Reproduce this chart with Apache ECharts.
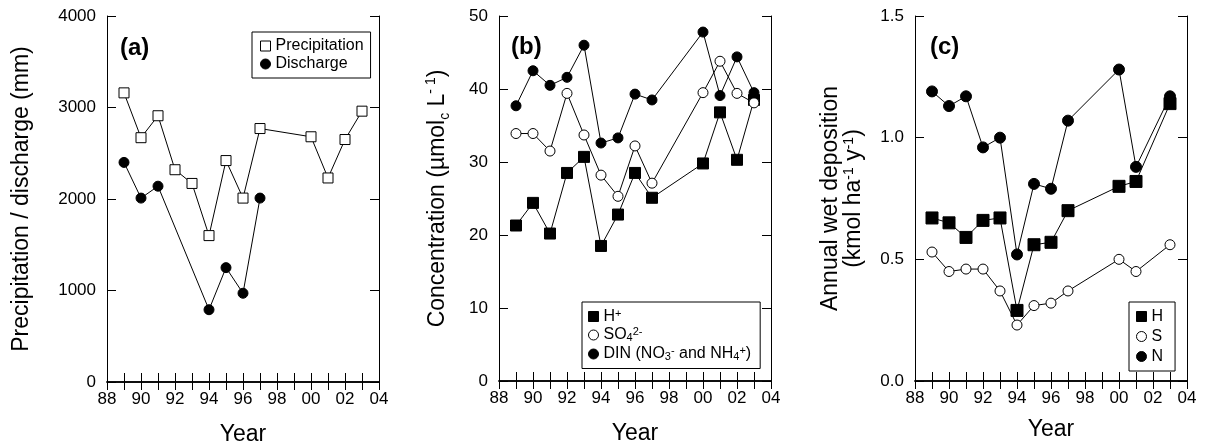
<!DOCTYPE html>
<html>
<head>
<meta charset="utf-8">
<script src="https://cdn.jsdelivr.net/npm/echarts@6/dist/echarts.min.js"></script>
<style>
html,body{margin:0;padding:0;background:#fff;}
#chart{width:1211px;height:447px;}
</style>
</head>
<body>
<div id="chart"></div>
<script>
// ---------- Data ----------
// Panel (a)
const precipYears = [1989,1990,1991,1992,1993,1994,1995,1996,1997,2000,2001,2002,2003];
const precipitation = [3160,2670,2910,2320,2170,1600,2420,2010,2770,2680,2230,2650,2960];
const dischargeYears = [1989,1990,1991,1994,1995,1996,1997];
const discharge = [2400,2010,2140,790,1250,970,2010];

// Panel (b)
const concYears = [1989,1990,1991,1992,1993,1994,1995,1996,1997,2000,2001,2002,2003];
const concH = [21.3,24.4,20.2,28.5,30.7,18.5,22.8,28.5,25.1,29.8,36.8,30.3,38.5];
const concSO4 = [33.9,33.9,31.5,39.4,33.7,28.2,25.3,32.2,27.1,39.5,43.8,39.4,38.1];
const concDIN = [37.7,42.5,40.5,41.6,46.0,32.6,33.3,39.3,38.5,47.8,39.1,44.4,39.5];

// Panel (c)
const depYears = [1989,1990,1991,1992,1993,1994,1995,1996,1997,2000,2001,2003];
const depH = [0.67,0.65,0.59,0.66,0.67,0.29,0.56,0.57,0.70,0.80,0.82,1.14];
const depS = [0.53,0.45,0.46,0.46,0.37,0.23,0.31,0.32,0.37,0.50,0.45,0.56];
const depN = [1.19,1.13,1.17,0.96,1.00,0.52,0.81,0.79,1.07,1.28,0.88,1.17];

// Axis ranges / ticks
const yearMin = 1988, yearMax = 2004;
const yA = {min:0, max:4000, interval:1000};
const yB = {min:0, max:50, interval:10};
const yC = {min:0, max:1.5, interval:0.5};

// ---------- Chart ----------
const FONT = '"Liberation Sans", Arial, Helvetica, sans-serif';
const pairs = (xs, ys) => xs.map((x, i) => [x, ys[i]]);

const grids = [
  {left:107, top:16, width:272, height:366},
  {left:499, top:16, width:272, height:365},
  {left:915, top:16, width:272, height:365}
].map(g => Object.assign({outerBoundsMode:'none', containLabel:false}, g));

function bottomX(gi, gap) {
  return {
    type:'value', gridIndex:gi, position:'bottom',
    min:yearMin, max:yearMax, interval:1,
    name:'Year', nameLocation:'middle', nameGap:gap,
    nameTextStyle:{fontSize:23, color:'#000', fontFamily:FONT},
    axisLine:{show:true, lineStyle:{color:'#000', width:1.5}},
    axisTick:{show:true, inside:true, length:9, lineStyle:{color:'#000', width:1}},
    axisLabel:{show:true, margin:9, fontSize:17, color:'#000', fontFamily:FONT,
      formatter: v => (v % 2 === 0) ? String(v % 100).padStart(2, '0') : ''},
    splitLine:{show:false}
  };
}
function topX(gi) {
  return {
    type:'value', gridIndex:gi, position:'top',
    min:yearMin, max:yearMax, interval:1,
    axisLine:{show:true, lineStyle:{color:'#000', width:1.5}},
    axisTick:{show:true, inside:true, length:8, lineStyle:{color:'#000', width:1}},
    axisLabel:{show:false}, splitLine:{show:false}
  };
}
function leftY(gi, r, name, gap, fmt, nameStyle) {
  return {
    type:'value', gridIndex:gi, position:'left',
    min:r.min, max:r.max, interval:r.interval,
    name:name, nameLocation:'middle', nameGap:gap, nameRotate:90,
    nameTextStyle:Object.assign({fontSize:23, color:'#000', fontFamily:FONT}, nameStyle || {}),
    axisLine:{show:true, lineStyle:{color:'#000', width:1}},
    axisTick:{show:true, inside:true, length:9, lineStyle:{color:'#000', width:1}},
    axisLabel:{show:true, margin:11, fontSize:17, color:'#000', fontFamily:FONT, formatter:fmt},
    splitLine:{show:false}
  };
}
function rightY(gi, r) {
  return {
    type:'value', gridIndex:gi, position:'right',
    min:r.min, max:r.max, interval:r.interval,
    axisLine:{show:true, lineStyle:{color:'#000', width:1}},
    axisTick:{show:true, inside:true, length:9, lineStyle:{color:'#000', width:1}},
    axisLabel:{show:false}, splitLine:{show:false}
  };
}

const openStyle = {color:'#fff', borderColor:'#000', borderWidth:1};
const fillStyle = {color:'#000', borderColor:'#000', borderWidth:1};

function lineSeries(name, gi, data, symbol, size, open) {
  return {
    name:name, type:'line', xAxisIndex:gi, yAxisIndex:gi,
    data:data, symbol:symbol, symbolSize:size, showSymbol:true,
    lineStyle:{color:'#000', width:1},
    itemStyle: open ? openStyle : fillStyle,
    animation:false, silent:true
  };
}

const richTxt = {
  b:{fontSize:16, lineHeight:17, color:'#000', fontFamily:FONT},
  sup:{fontSize:11, lineHeight:11, verticalAlign:'top', color:'#000', fontFamily:FONT},
  sub:{fontSize:11, lineHeight:11, verticalAlign:'bottom', color:'#000', fontFamily:FONT}
};
const legendNamesB = {
  'H+':'{b|H}{sup|+}',
  'SO4':'{b|SO}{sub|4}{sup|2-}',
  'DIN':'{b|DIN (NO}{sub|3}{sup|-}{b| and NH}{sub|4}{sup|+}{b|)}'
};

const axisNameRich = {
  t:{fontSize:23, color:'#000', fontFamily:FONT, lineHeight:28},
  sub:{fontSize:14, color:'#000', fontFamily:FONT, lineHeight:14, verticalAlign:'bottom'},
  sup:{fontSize:14, color:'#000', fontFamily:FONT, lineHeight:14, verticalAlign:'top'}
};

const option = {
  backgroundColor:'#fff',
  animation:false,
  textStyle:{fontFamily:FONT},
  title:[
    {text:'(a)', left:120, top:36, padding:0, textStyle:{fontSize:24, fontWeight:'bold', color:'#000', fontFamily:FONT}},
    {text:'(b)', left:511, top:35, padding:0, textStyle:{fontSize:24, fontWeight:'bold', color:'#000', fontFamily:FONT}},
    {text:'(c)', left:930, top:35, padding:0, textStyle:{fontSize:24, fontWeight:'bold', color:'#000', fontFamily:FONT}}
  ],
  grid:grids,
  xAxis:[bottomX(0, 41), bottomX(1, 41), bottomX(2, 37), topX(0), topX(1), topX(2)],
  yAxis:[
    leftY(0, yA, 'Precipitation / discharge (mm)', 74, v => String(v)),
    leftY(1, yB, '{t|Concentration (µmol}{sub|c}{t| L}{sup|- 1}{t|)}', 47, v => String(v), {rich:axisNameRich}),
    leftY(2, yC, 'Annual wet deposition\n(kmol ha{sup|-1} y{sup|-1})', 50, v => v.toFixed(1),
      {lineHeight:23, rich:{sup:{fontSize:14, lineHeight:14, verticalAlign:'top', color:'#000', fontFamily:FONT}}}),
    rightY(0, yA), rightY(1, yB), rightY(2, yC)
  ],
  legend:[
    {
      left:252, top:32, orient:'vertical', padding:[6,7,6,8],
      itemWidth:10, itemHeight:10, itemGap:2,
      borderColor:'#000', borderWidth:1, selectedMode:false,
      textStyle:{fontSize:16, color:'#000', fontFamily:FONT},
      data:[
        {name:'Precipitation', icon:'rect', itemStyle:openStyle},
        {name:'Discharge', icon:'circle', itemStyle:fillStyle}
      ]
    },
    {
      left:582, top:302, orient:'vertical', padding:[6,9,6,6], itemGap:2,
      itemWidth:10, itemHeight:10,
      borderColor:'#000', borderWidth:1, selectedMode:false,
      textStyle:{fontSize:16, color:'#000', fontFamily:FONT, rich:richTxt},
      formatter: n => legendNamesB[n] || n,
      data:[
        {name:'H+', icon:'rect', itemStyle:fillStyle},
        {name:'SO4', icon:'circle', itemStyle:openStyle},
        {name:'DIN', icon:'circle', itemStyle:fillStyle}
      ]
    },
    {
      left:1129, top:302, orient:'vertical', padding:[6,12,6,7], itemGap:3,
      itemWidth:10, itemHeight:10,
      borderColor:'#000', borderWidth:1, selectedMode:false,
      textStyle:{fontSize:16, color:'#000', fontFamily:FONT, lineHeight:17},
      data:[
        {name:'H', icon:'rect', itemStyle:fillStyle},
        {name:'S', icon:'circle', itemStyle:openStyle},
        {name:'N', icon:'circle', itemStyle:fillStyle}
      ]
    }
  ],
  series:[
    lineSeries('Precipitation', 0, pairs(precipYears, precipitation), 'rect', 10, true),
    lineSeries('Discharge', 0, pairs(dischargeYears, discharge), 'circle', 10, false),
    lineSeries('H+', 1, pairs(concYears, concH), 'rect', 11, false),
    lineSeries('SO4', 1, pairs(concYears, concSO4), 'circle', 10, true),
    lineSeries('DIN', 1, pairs(concYears, concDIN), 'circle', 10, false),
    lineSeries('H', 2, pairs(depYears, depH), 'rect', 12, false),
    lineSeries('S', 2, pairs(depYears, depS), 'circle', 10, true),
    lineSeries('N', 2, pairs(depYears, depN), 'circle', 11, false)
  ]
};

const chart = echarts.init(document.getElementById('chart'), null, {renderer:'canvas'});
chart.setOption(option);
</script>
</body>
</html>
